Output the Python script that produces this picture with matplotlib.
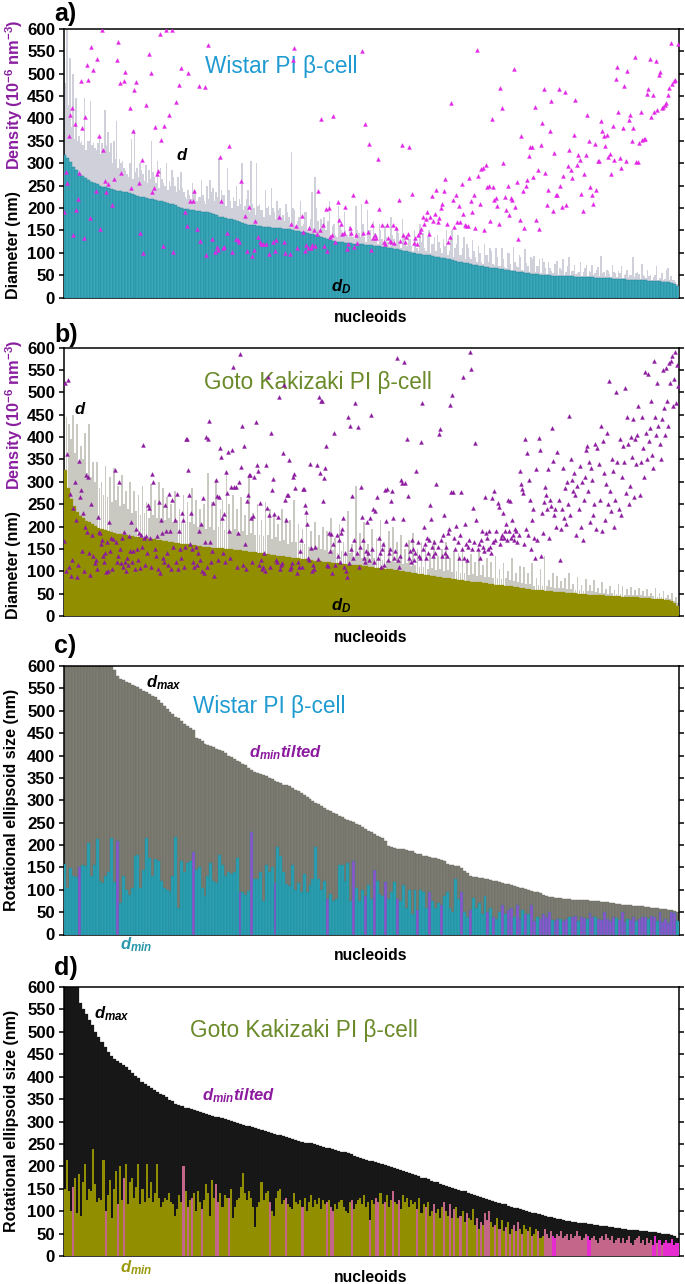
import numpy as np
import matplotlib
matplotlib.use('Agg')
import matplotlib.pyplot as plt

plt.rcParams['font.family'] = ['Liberation Sans', 'DejaVu Sans']
plt.rcParams['mathtext.fontset'] = 'custom'
plt.rcParams['mathtext.rm'] = 'Liberation Sans:bold'
plt.rcParams['mathtext.it'] = 'Liberation Sans:bold:italic'
plt.rcParams['mathtext.bf'] = 'Liberation Sans:bold'

n = np.nan

# ── panel a: Wistar, diameters and density ───────────────────────────────────
dD_a = [318,312,303,292,284,277,272,268,263,259, 256,253,250,248,246,244,242,240,239,238,
        236,235,233,231,229,227,225,224,223,221, 219,217,216,215,214,212,210,208,206,203,
        200,198,197,196,195,194,193,192,191,190, 188,186,184,181,179,177,176,175,173,171,
        169,167,165,163,162,161,160,159,158,157, 157,156,156,155,155,154,153,152,151,149,
        148,147,146,144,143,141,139,137,135,132, 130,128,126,125,124,123,122,122,121,120,
        120,119,119,118,118,117,116,115,114,113, 112,111,110,109,108,106,105,103,102,100,
        99,98,97,96,95,94,93,91,90,89, 88,87,85,83,82,80,79,77,76,74,
        73,72,71,70,69,68,67,66,65,64, 63,62,61,60,59,58,57,56,55,54,
        53,52,52,51,51,50,50,49,49,48, 48,48,47,47,47,46,46,46,45,45,
        45,45,44,44,44,43,43,43,42,42, 41,41,41,40,40,40,39,39,39,38,
        37,37,36,36,36,35,35,34,33,31, 26]
d_a_even = [550,600,535,500,445,360,350,445,350,440, 345,330,360,345,420,370,345,350,395,310,
            305,285,270,355,375,290,300,275,295,285, 350,270,305,290,255,300,260,285,250,270,
            280,235,220,230,255,240,225,262,215,250, 262,245,235,312,240,228,290,215,225,250,
            220,300,205,240,305,200,300,210,195,240, 205,245,190,215,200,185,210,180,325,195,
            170,215,165,190,160,235,270,170,175,180, 150,215,160,140,205,150,190,140,160,135,
            205,145,210,135,195,150,170,135,165,130, 160,125,180,130,155,120,175,125,145,115,
            150,110,165,145,105,150,120,135,140,110, 130,150,105,150,110,140,95,135,120,90,
            128,90,115,80,120,95,110,75,110,70, 110,68,100,75,112,70,95,62,108,70,
            90,92,70,85,88,65,80,60,75,82, 65,85,58,90,60,72,55,80,58,72,
            60,72,55,68,92,58,62,52,72,55, 60,70,50,62,50,90,55,52,75,48,
            62,50,45,70,44,55,42,65,48,38, 30]
d_a_odd = [480,430,380,355,350,345,340,330,350,340, 335,345,320,330,340,325,300,310,290,300,
           290,275,300,265,280,270,285,260,255,265, 280,255,245,265,250,240,250,270,235,240,
           245,225,240,220,235,215,225,230,210,220, 235,215,225,210,230,205,240,200,215,205,
           210,195,220,190,210,185,205,195,180,200, 185,200,175,195,180,170,190,165,200,160,
           180,160,190,150,175,155,200,150,165,150, 170,140,165,135,160,145,150,135,155,130,
           150,135,165,125,150,130,145,120,150,125, 135,115,140,120,145,110,135,115,130,105,
           130,105,125,110,135,100,120,105,125,100, 115,95,130,90,120,95,110,85,110,85,
           105,80,100,75,95,80,105,72,90,70, 85,65,100,62,80,68,90,60,78,58,
           85,56,70,55,80,52,65,55,75,50, 62,50,70,50,60,52,58,49,65,48,
           58,50,62,47,55,48,60,45,58,46, 55,44,52,45,50,46,58,42,50,43,
           48,40,50,38,44,40,62,38,40,34, 28]
density_a = [190,280,255,360,408,423,139,387,195,220,278,483,378,134,403,520,485,177,560,508,n,237,534,361,152,597,329,260,236,253,n,n,
             207,265,n,530,571,480,279,n,484,504,n,n,424,244,372,464,481,n,256,144,307,100,n,431,n,544,501,236,245,381,276,283,589,352,
             116,383,597,n,408,n,598,101,n,437,n,475,513,n,n,191,159,502,215,n,215,238,n,153,472,126,n,n,470,95,564,n,n,130,n,101,112,106,
             313,215,110,113,n,145,339,n,101,n,n,130,129,124,260,n,n,182,105,n,203,n,92,107,172,n,135,123,120,119,n,120,n,98,n,n,125,104,128,n,
             181,n,n,124,99,n,n,98,165,531,557,159,110,n,n,182,146,103,118,111,156,111,118,151,115,141,238,151,398,162,115,198,103,200,135,140,
             405,124,n,214,174,165,143,144,202,109,119,155,144,229,112,139,121,n,n,550,144,388,215,146,343,107,161,133,140,133,310,197,n,162,
             123,120,163,133,127,124,162,121,156,n,217,127,340,140,123,136,142,337,n,232,121,133,119,139,146,154,181,165,175,191,142,180,227,
             171,187,241,169,177,200,209,238,265,164,125,136,434,217,157,229,169,205,168,253,186,161,160,160,266,216,192,229,155,553,272,209,
             288,290,151,296,247,249,171,399,247,217,223,204,164,468,424,300,225,195,250,185,222,217,511,203,259,131,173,361,238,156,250,262,
             317,337,337,269,425,174,284,154,340,391,467,279,206,240,373,440,193,322,228,229,466,250,202,271,460,206,293,329,285,268,364,441,
             297,318,308,232,193,276,318,407,349,247,229,210,343,240,306,306,394,372,361,338,363,314,320,276,384,308,488,516,415,312,290,378,
             472,306,507,396,407,349,379,537,302,302,345,415,352,355,355,454,465,533,404,452,415,529,418,498,505,423,425,431,434,452,468,569,
             478,484,485,n,567]

# ── panel b: Goto Kakizaki, diameters and density ────────────────────────────
dD_b = [326,285,262,245,232,224,218,213,209,205, 201,197,194,192,190,188,186,184,183,182,
        180,179,178,177,176,175,174,173,172,171, 170,169,168,167,166,165,164,163,162,161,
        160,159,158,157,156,155,155,154,153,152, 151,151,150,149,149,148,147,147,146,145,
        144,143,142,141,140,139,138,137,136,135, 134,133,132,131,130,130,129,128,127,126,
        125,124,123,122,121,120,120,119,118,118, 117,116,115,115,114,113,113,112,111,110,
        109,108,108,107,106,105,104,103,102,101, 100,99,98,96,95,94,93,92,91,90,
        89,88,87,86,85,84,83,82,81,80, 79,78,77,76,76,75,74,73,72,71,
        70,69,69,68,67,66,65,64,63,62, 61,60,59,58,57,57,56,55,55,54,
        54,53,53,52,52,51,51,50,50,49, 48,48,47,47,46,46,45,45,45,44,
        44,43,43,43,42,42,42,41,41,40, 40,39,38,38,37,36,35,33,30,22]
d_b = [480,445,430,395,450,365,428,345,380,350,410,320,430,310,345,300,
       345,285,300,270,335,265,310,255,330,260,290,245,315,250,280,240,
       300,230,280,235,270,225,290,230,255,220,295,225,260,220,300,218,
       285,215,265,220,250,210,280,215,240,208,270,205,255,210,285,205,
       260,200,240,205,250,195,320,200,255,192,305,198,240,260,192,320,
       250,190,270,195,240,185,265,190,225,182,310,185,230,180,250,182,
       215,178,255,180,240,172,225,176,205,168,240,170,220,162,215,165,
       260,165,205,160,195,162,230,155,190,152,210,155,180,150,200,148,
       190,142,220,148,175,140,205,145,165,136,235,140,160,132,290,135,
       185,130,210,132,160,128,195,130,175,125,215,126,165,122,190,124,
       200,120,165,122,180,116,150,118,170,112,185,114,150,110,165,110,
       155,106,140,108,170,102,135,106,150,100,165,102,130,98,145,100,
       140,96,150,96,125,92,138,94,120,90,145,92,115,88,130,88,
       120,84,135,85,105,82,118,84,100,80,130,78,95,76,112,74,
       110,72,95,72,118,68,85,70,105,66,135,66,80,64,95,62,
       90,62,78,62,85,60,95,60,72,58,88,57,70,56,82,55,
       70,55,80,54,62,52,75,52,60,50,68,51,58,49,72,50,
       66,48,60,48,65,47,58,46,62,46,55,45,60,44,52,44,
       62,43,52,42,55,40,48,38,52,34,42,30]
density_b = [168,520,100,361,528,110,273,90,125,242,300,215,88,115,347,265,
             282,145,231,100,200,315,188,311,140,92,251,180,135,118,125,105,
             222,187,185,160,170,135,120,140,98,165,100,210,145,175,105,172,
             326,165,120,135,299,150,118,175,110,188,120,100,130,115,178,145,
             210,120,145,105,195,150,125,185,108,180,155,382,175,115,178,140,
             248,241,175,110,317,300,150,135,178,105,255,95,215,185,130,120,
             247,190,140,115,272,190,105,259,155,215,120,273,105,190,150,130,
             231,215,110,155,396,396,326,270,160,231,150,120,110,155,115,140,
             190,125,205,100,263,95,165,399,110,396,436,165,120,145,252,90,
             304,268,125,265,375,355,218,140,228,120,321,275,367,190,130,288,
             371,557,289,289,110,185,299,586,334,425,115,380,160,105,257,271,
             314,316,218,120,224,310,434,337,324,115,253,125,105,110,140,100,
             337,241,533,226,110,408,282,306,229,125,120,222,490,105,115,118,
             365,516,259,215,270,270,348,105,110,118,310,317,285,95,120,110,
             145,170,110,284,284,248,232,206,130,125,339,152,100,115,105,155,
             338,128,489,320,480,480,257,309,330,379,115,112,185,145,183,95,
             160,410,115,180,135,170,120,185,195,220,110,140,100,88,444,118,
             425,150,269,130,170,477,140,423,110,155,289,222,170,130,120,145,
             210,140,125,218,450,150,238,120,235,265,130,175,140,110,150,160,
             115,282,212,283,125,140,150,257,280,218,130,145,576,125,110,135,
             303,298,216,568,298,160,395,269,130,145,120,170,150,125,140,325,
             165,135,130,388,477,150,200,160,130,175,140,170,247,216,155,135,
             165,140,295,155,407,417,170,135,180,226,140,155,135,185,195,471,
             278,493,278,175,150,202,165,130,180,277,150,534,130,206,160,125,
             155,170,589,551,150,241,165,387,215,150,160,130,170,190,155,145,
             265,185,175,150,190,155,140,263,165,280,170,190,252,244,160,175,
             180,231,175,190,205,170,259,190,258,175,215,180,170,195,190,165,
             180,323,294,284,274,160,396,195,364,180,304,260,150,215,240,175,
             130,329,170,398,370,135,230,185,255,289,270,240,329,175,260,245,
             420,346,225,240,200,367,260,125,195,240,330,220,285,205,300,250,
             446,225,350,305,280,320,270,180,290,240,335,200,300,170,260,310,
             370,380,280,345,210,330,305,225,250,385,195,375,340,260,425,190,
             390,320,215,295,410,250,525,280,235,350,325,200,260,500,345,240,
             395,225,310,380,345,510,275,445,385,250,290,400,355,440,265,395,
             340,405,470,270,345,445,375,310,545,410,350,540,390,420,480,360,
             330,570,445,405,520,425,385,350,440,550,465,405,555,480,425,565,
             520,570,580,470,530,590,475,560,515]

# ── panel c: Wistar, ellipsoid axes ──────────────────────────────────────────
dmax_c = [600,600,600,600,600,600,600,600,600,600, 600,600,600,600,600,600,600,590,578,572,
          568,565,561,558,555,552,548,545,541,537, 533,530,524,517,510,503,498,492,487,483,
          476,470,466,461,456,440,437,432,426,423, 421,418,415,412,409,405,400,396,392,388,
          385,382,378,373,367,363,361,359,356,354, 350,347,344,341,338,335,333,331,327,323,
          320,316,312,308,303,298,294,291,287,283, 278,275,272,269,265,262,259,256,254,252,
          248,244,240,236,232,228,224,220,217,215, 210,198,196,194,192,191,190,188,187,186,
          183,181,179,176,175,174,172,170,168,167, 164,158,156,155,153,152,148,143,138,130,
          129,128,127,126,125,124,122,120,119,118, 116,113,112,110,108,106,105,103,101,100,
          98,96,94,92,89,86,84,83,82,81, 81,80,79,79,78,78,78,77,77,76,
          75,75,74,74,73,72,72,71,70,69, 68,67,66,65,65,64,64,63,63,62,
          61,60,60,59,58,57,56,55,54,52,50]
dmin_c = [158,105,148,130,128,150,155,152,205,130, 155,213,120,115,130,140,215,118,210,70,
          130,100,88,105,175,178,105,145,215,170, 130,168,165,120,105,100,95,130,218,60,
          165,140,160,165,185,145,150,105,85,130, 160,120,115,178,155,130,140,135,140,170,
          95,95,88,98,230,125,125,140,75,155, 140,150,115,195,175,140,112,108,155,100,
          115,95,135,95,110,125,195,125,100,120, 80,90,75,80,155,155,120,160,75,165,
          105,75,100,85,110,80,145,120,90,85, 118,80,95,118,80,75,110,60,100,45,
          100,55,100,95,60,95,75,60,70,65, 85,95,60,50,125,80,95,50,40,55,
          82,60,70,45,85,50,60,40,35,50, 65,45,55,60,40,65,35,55,45,45,
          65,30,40,35,45,40,50,32,30,35, 35,30,35,38,40,42,30,38,36,35,
          48,40,38,35,32,50,35,30,38,36, 32,50,28,35,32,38,30,35,38,40,
          35,42,40,30,50,28,35,25,50,48,30]
tilted_c = [5,18,44,60,64,72,90,99,103,106,110,114,121,125,129,136,139,145,147,150,152,153,155,156,158,160,161,163,164,165,
            166,168,169,171,172,174,175,177,178,180,181,183,184,185,186,187,188,190,191,192,194,195,197,198,199,201,202,204,205,206,207,208,209]

# ── panel d: Goto Kakizaki, ellipsoid axes ───────────────────────────────────
dmax_d = [600,600,600,600,600,565,552,540,527,515, 500,488,477,466,456,447,440,436,430,425,
          421,415,409,402,396,389,384,379,375,370, 366,362,358,354,349,345,340,337,334,331,
          329,327,325,323,321,319,317,315,313,311, 309,307,305,303,301,299,297,295,293,291,
          289,287,285,283,281,279,277,275,273,271, 269,267,265,263,261,259,257,255,253,252,
          251,249,247,245,243,242,240,238,236,234, 233,231,229,227,224,221,219,217,215,213,
          211,209,207,205,203,201,199,197,195,192, 190,188,185,183,180,178,175,173,171,168,
          166,164,161,159,156,154,152,150,148,146, 144,141,139,136,134,131,129,127,125,123,
          121,119,117,115,112,110,107,106,104,102, 100,99,97,96,94,92,90,88,87,85,
          83,82,80,79,77,76,75,74,73,73, 72,71,70,69,68,67,66,65,64,63,
          62,61,60,59,59,58,57,56,56,55, 54,53,53,52,50,49,48,46,44,40]
dmin_d = [150,215,145,100,155,175,95,183,90,165,205,125,150,145,238,160,
          120,130,125,215,100,135,170,85,150,190,115,200,125,175,205,115,
          165,175,130,155,205,115,150,120,205,130,165,120,140,205,130,110,
          120,130,125,140,120,115,90,105,135,120,200,145,110,125,130,140,
          100,145,120,105,125,160,140,90,170,130,160,120,140,110,135,130,
          130,150,85,110,125,130,155,185,140,125,145,130,110,65,110,120,
          165,125,140,145,120,100,90,130,145,150,115,125,130,115,110,105,
          140,120,115,125,110,130,100,120,135,110,125,115,130,105,125,115,
          120,125,110,100,115,105,120,125,110,100,95,120,125,105,115,125,
          130,115,135,110,120,80,125,115,130,120,140,115,120,135,110,125,
          145,120,115,125,105,135,120,130,110,125,115,120,105,130,95,115,
          110,120,90,100,115,95,105,85,110,120,100,90,115,85,105,110,
          85,90,100,75,95,85,80,105,70,85,60,75,70,95,80,100,
          75,65,70,85,60,80,55,65,75,50,60,70,55,75,60,50,
          70,60,55,65,45,50,60,55,40,45,60,50,40,55,45,40,
          50,45,55,40,45,50,35,50,40,45,55,45,35,40,50,45,
          35,40,45,35,30,40,45,35,50,40,35,45,30,35,40,30,
          40,30,35,45,30,25,35,40,45,30,35,25,40,30,35,25,
          45,30,35,25,30,35,28,30,38,25,30,28]
tilted_d = [4,20,26,29,58,60,62,67,74,75,80,100,108,116,128,130,131,140,149,152,153,156,160,163,172,176,180,
            185,188,190,193,196,201,203,205,206,207,210,212,215,217,219,221,223,226,228,231,234,235,236,237,240,241,242,243,
            244,245,246,247,248,249,250,251,252,253,254,257,258,259,260,261,262,263,264,265,266,267,268,269,270,271,272,
            273,274,275,276,277,278,279,280,281,282,283,284,285,286,289,291]
bright_d = [238,239,255,256,287,288,290,292,293,294,295,296,297,298,299]

yticks = list(range(0, 601, 50))

# colours
TEAL, TEAL_E = '#3aa8ba', '#1d8293'
GREY_A, GREY_B = '#d0d0da', '#c9c9c1'
OLIVE = '#918e00'
MAG, PURP = '#e226e6', '#8c1a9e'
GREY_C, BLACK = '#7c7c72', '#161616'
TEAL_C, PURP_C = '#2a9fb2', '#8d55cc'
PINK, PINK_B = '#c4668a', '#e62bd0'
BLUE_T, GREEN_T = '#1f9bd1', '#6b8a2a'
LAB_P = '#8a1fa0'

W, H = 685, 1284
fig = plt.figure(figsize=(W / 100, H / 100), dpi=100)


def make_ax(top, bottom):
    ax = fig.add_axes([63.5 / W, 1 - bottom / H, (679 - 63.5) / W, (bottom - top) / H])
    ax.set_xlim(0, 1)
    ax.set_ylim(0, 600)
    ax.set_yticks(yticks)
    ax.set_xticks([])
    ax.tick_params(axis='y', which='both', left=True, right=True, direction='out',
                   length=3.5, width=1.1, labelsize=12.2, pad=2.5)
    for t in ax.get_yticklabels():
        t.set_fontweight('bold')
    for s in ax.spines.values():
        s.set_linewidth(1.1)
    return ax


def bars(ax, vals, color, edge='none', lw=0, z=2, rel=1.0):
    x = (np.arange(len(vals)) + 0.5) / len(vals)
    return ax.bar(x, vals, width=rel / len(vals), color=color, edgecolor=edge, linewidth=lw, zorder=z)


def points(ax, vals, color):
    x = (np.arange(len(vals)) + 0.5) / len(vals)
    ax.plot(x, vals, ls='none', marker='^', ms=2.9, mfc=color, mec=color, mew=0.2, zorder=5)


def label(x, y, s, **kw):
    kw.setdefault('ha', 'left')
    kw.setdefault('va', 'center')
    return fig.text(x / W, 1 - y / H, s, **kw)


# a
ax_a = make_ax(29, 297.5)
d_a = np.ravel(np.column_stack([d_a_even, d_a_odd]))
bars(ax_a, d_a, GREY_A)
bars(ax_a, dD_a, TEAL, TEAL_E, 0.3, 3)
points(ax_a, density_a, MAG)

# b
ax_b = make_ax(347.5, 616)
bars(ax_b, d_b, GREY_B, rel=0.85)
bars(ax_b, dD_b, OLIVE, OLIVE, 0.2, 3)
points(ax_b, density_b, PURP)

# c
ax_c = make_ax(666, 934.5)
bars(ax_c, dmax_c, GREY_C, '#6c6c62', 0.3)
cols_c = [PURP_C if i in tilted_c else TEAL_C for i in range(len(dmin_c))]
bars(ax_c, dmin_c, cols_c, '#1f8494', 0.25, z=3)

# d
ax_d = make_ax(987, 1256)
bars(ax_d, dmax_d, BLACK, '#222222', 0.2)
cols_d = [PINK_B if i in bright_d else PINK if i in tilted_d else OLIVE for i in range(len(dmin_d))]
bars(ax_d, dmin_d, cols_d, z=3)

# panel letters
for s, y in [('a)', 14), ('b)', 335), ('c)', 646), ('d)', 968)]:
    label(54, y, s, fontsize=18, fontweight='bold')

# axis titles
label(14, 245, 'Diameter (nm)', rotation=90, ha='center', fontsize=11.5, fontweight='bold')
label(14, 95, r'Density (10$^{-6}$ nm$^{-3}$)', rotation=90, ha='center', fontsize=11.8, fontweight='bold', color=LAB_P)
label(14, 565, 'Diameter (nm)', rotation=90, ha='center', fontsize=11.5, fontweight='bold')
label(14, 415, r'Density (10$^{-6}$ nm$^{-3}$)', rotation=90, ha='center', fontsize=11.8, fontweight='bold', color=LAB_P)
label(12, 800, 'Rotational ellipsoid size (nm)', rotation=90, ha='center', fontsize=11.5, fontweight='bold')
label(12, 1121, 'Rotational ellipsoid size (nm)', rotation=90, ha='center', fontsize=11.5, fontweight='bold')
for y in [318, 637, 955, 1277]:
    label(371, y, 'nucleoids', ha='center', fontsize=11.3, fontweight='bold')

# panel titles, behind the points
ax_a.text((205 - 63.5) / 615.5, 1 - (66 - 29) / 268.5, 'Wistar PI β-cell', transform=ax_a.transAxes,
          fontsize=16.3, color=BLUE_T, va='center', zorder=4)
ax_b.text((204 - 63.5) / 615.5, 1 - (382 - 347.5) / 268.5, 'Goto Kakizaki PI β-cell', transform=ax_b.transAxes,
          fontsize=16.3, color=GREEN_T, va='center', zorder=4)
label(193, 707, 'Wistar PI β-cell', fontsize=16.3, color=BLUE_T)
label(190, 1030, 'Goto Kakizaki PI β-cell', fontsize=16.3, color=GREEN_T)

# series labels
label(176, 155, '$d$', fontsize=12)
label(331, 287, '$d_D$', fontsize=12)
label(74, 409, '$d$', fontsize=12)
label(331, 606, '$d_D$', fontsize=12)
label(146, 683, '$d_{max}$', fontsize=12)
label(249, 753, '$d_{min}tilted$', fontsize=12, color=PURP)
label(120, 945, '$d_{min}$', fontsize=12, color='#2a97ab')
label(94, 1014, '$d_{max}$', fontsize=12)
label(202, 1096, '$d_{min}tilted$', fontsize=12, color=PURP)
label(120, 1268, '$d_{min}$', fontsize=12, color='#9a9a10')

fig.savefig('out.png', dpi=100, facecolor='white')
